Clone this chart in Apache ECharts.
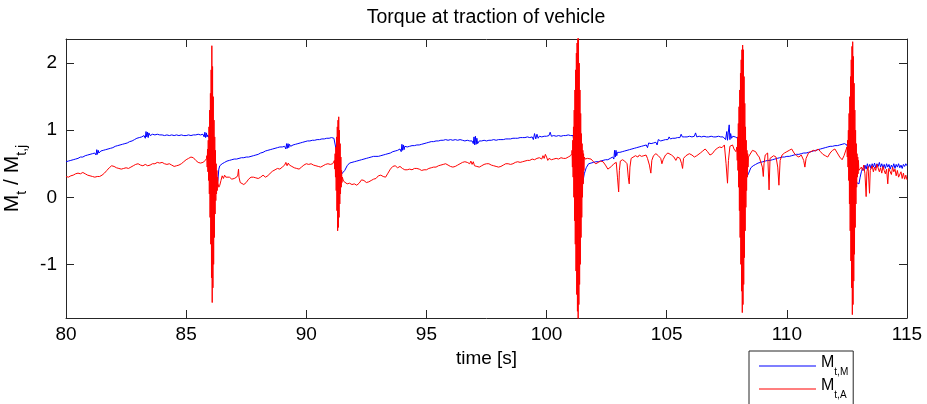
<!DOCTYPE html>
<html>
<head>
<meta charset="utf-8">
<script src="https://cdn.jsdelivr.net/npm/echarts@6/dist/echarts.min.js"></script>
<style>
html,body{margin:0;padding:0;background:#fff;}
#chart{width:927px;height:404px;}
</style>
</head>
<body>
<div id="chart"></div>
<script>
// ---------- DATA (time [s], torque ratio) ----------
const xTicks = [80, 85, 90, 95, 100, 105, 110, 115];
const yTicks = [-1, 0, 1, 2];
const seriesNames = ['Mt,M', 'Mt,A'];

const blueTorque = [
[80.0,0.53],[80.1,0.54],[80.2,0.55],[80.3,0.56],[80.4,0.57],[80.5,0.58],[80.6,0.6],[80.7,0.6],[80.8,0.62],[80.9,0.63],[81.0,0.64],[81.1,0.65],[81.2,0.66],[81.25,0.63],[81.28,0.71],[81.31,0.64],[81.34,0.7],[81.37,0.66],[81.45,0.69],[81.55,0.7],[81.65,0.71],[81.75,0.72],[81.85,0.73],[81.95,0.74],[82.05,0.76],[82.15,0.77],[82.25,0.78],[82.35,0.79],[82.45,0.8],[82.55,0.81],[82.65,0.83],[82.75,0.84],[82.85,0.86],[82.95,0.88],[83.05,0.89],[83.15,0.9],[83.25,0.92],[83.3,0.88],[83.33,0.98],[83.36,0.9],[83.39,0.97],[83.42,0.89],[83.45,0.96],[83.5,0.92],[83.6,0.94],[83.7,0.93],[83.8,0.94],[83.9,0.93],[84.0,0.93],[84.1,0.92],[84.2,0.93],[84.3,0.92],[84.4,0.93],[84.5,0.92],[84.6,0.93],[84.7,0.92],[84.8,0.93],[84.9,0.92],[85.0,0.92],[85.1,0.93],[85.2,0.92],[85.3,0.93],[85.4,0.93],[85.5,0.94],[85.6,0.93],[85.7,0.94],[85.75,0.9],[85.78,0.97],[85.81,0.89],[85.84,0.96],[85.87,0.9],[85.9,0.93],
[86.0,0.85],[86.1,0.6],[86.2,0.35],[86.28,0.17],[86.32,0.25],[86.36,0.42],[86.4,0.47],[86.5,0.5],[86.6,0.52],[86.7,0.54],[86.8,0.55],[86.9,0.56],[87.0,0.57],[87.1,0.57],[87.2,0.58],[87.3,0.59],[87.4,0.59],[87.5,0.6],[87.6,0.6],[87.7,0.61],[87.8,0.62],[87.9,0.63],[88.0,0.64],[88.1,0.66],[88.2,0.67],[88.3,0.69],[88.4,0.7],[88.5,0.71],[88.6,0.72],[88.7,0.73],[88.8,0.74],[88.9,0.75],[89.0,0.75],[89.1,0.76],[89.15,0.72],[89.18,0.8],[89.21,0.73],[89.24,0.8],[89.27,0.74],[89.3,0.79],[89.35,0.76],[89.45,0.78],[89.55,0.79],[89.65,0.8],[89.75,0.81],[89.85,0.82],[89.95,0.83],[90.05,0.84],[90.15,0.84],[90.25,0.85],[90.35,0.85],[90.45,0.86],[90.55,0.86],[90.65,0.87],[90.75,0.87],[90.85,0.88],[90.95,0.88],[91.05,0.89],[91.15,0.88],
[91.25,0.7],[91.3,0.5],[91.35,0.35],[91.4,0.3],[91.45,0.32],[91.5,0.36],[91.6,0.4],[91.7,0.47],[91.8,0.51],[91.9,0.52],[92.0,0.53],[92.1,0.54],[92.2,0.55],[92.3,0.56],[92.4,0.57],[92.5,0.58],[92.6,0.59],[92.7,0.6],[92.8,0.61],[92.9,0.61],[93.0,0.61],[93.1,0.62],[93.2,0.63],[93.3,0.64],[93.4,0.65],[93.5,0.66],[93.6,0.68],[93.7,0.69],[93.8,0.7],[93.9,0.72],[93.95,0.68],[93.98,0.79],[94.01,0.7],[94.04,0.78],[94.07,0.71],[94.1,0.76],[94.2,0.75],[94.3,0.76],[94.4,0.77],[94.5,0.77],[94.6,0.78],[94.7,0.78],[94.8,0.79],[94.9,0.8],[95.0,0.81],[95.1,0.82],[95.2,0.83],[95.3,0.83],[95.4,0.84],[95.5,0.84],[95.6,0.85],[95.7,0.85],[95.8,0.86],[95.9,0.85],[96.0,0.86],[96.1,0.85],[96.2,0.86],[96.3,0.85],[96.4,0.86],[96.5,0.85],[96.6,0.84],[96.7,0.85],[96.8,0.84],[96.9,0.84],[96.95,0.8],[96.98,0.9],[97.01,0.78],[97.04,0.91],[97.07,0.79],[97.1,0.88],[97.13,0.8],[97.2,0.84],[97.3,0.84],[97.4,0.85],[97.5,0.84],[97.6,0.85],[97.7,0.85],[97.8,0.86],[97.9,0.85],[98.0,0.86],[98.1,0.86],[98.2,0.86],[98.3,0.87],[98.4,0.87],[98.5,0.87],[98.6,0.88],[98.7,0.88],[98.8,0.88],[98.9,0.89],[99.0,0.89],[99.1,0.89],[99.2,0.9],[99.3,0.89],[99.4,0.9],[99.45,0.86],[99.5,0.95],[99.55,0.87],[99.6,0.94],[99.65,0.88],[99.7,0.91],[99.8,0.9],[99.9,0.91],[100.0,0.91],[100.1,0.92],[100.15,0.97],[100.2,0.91],[100.3,0.92],[100.4,0.91],[100.5,0.92],[100.6,0.91],[100.7,0.92],[100.8,0.92],[100.9,0.93],[101.0,0.92],[101.1,0.92],
[101.2,0.7],[101.3,0.4],[101.4,0.2],[101.48,0.14],[101.52,0.25],[101.57,0.35],[101.65,0.44],[101.75,0.5],[101.85,0.51],[101.95,0.52],[102.05,0.53],[102.15,0.53],[102.25,0.54],[102.35,0.55],[102.45,0.56],[102.55,0.56],[102.65,0.58],[102.75,0.6],[102.8,0.57],[102.83,0.7],[102.86,0.6],[102.89,0.7],[102.92,0.62],[102.95,0.67],[103.05,0.67],[103.15,0.68],[103.25,0.69],[103.35,0.7],[103.45,0.71],[103.55,0.72],[103.65,0.73],[103.75,0.74],[103.85,0.75],[103.95,0.76],[104.05,0.77],[104.15,0.78],[104.2,0.74],[104.25,0.81],[104.35,0.8],[104.45,0.81],[104.55,0.82],[104.6,0.78],[104.65,0.86],[104.75,0.84],[104.85,0.85],[104.95,0.86],[105.05,0.86],[105.1,0.9],[105.15,0.87],[105.25,0.88],[105.35,0.88],[105.45,0.89],[105.55,0.89],[105.6,0.94],[105.65,0.9],[105.75,0.9],[105.85,0.9],[105.95,0.91],[106.05,0.9],[106.15,0.91],[106.2,0.96],[106.25,0.9],[106.35,0.91],[106.45,0.9],[106.55,0.91],[106.65,0.9],[106.75,0.9],[106.85,0.91],[106.95,0.9],[107.05,0.9],[107.15,0.91],[107.25,0.9],[107.35,0.9],[107.45,0.86],[107.5,0.98],[107.53,0.85],[107.56,0.96],[107.6,1.08],[107.63,0.86],[107.66,0.95],[107.7,0.88],[107.75,0.91],[107.85,0.9],[107.95,0.88],
[108.05,0.75],[108.15,0.55],[108.25,0.38],[108.33,0.3],[108.4,0.35],[108.5,0.44],[108.6,0.47],[108.7,0.49],[108.8,0.51],[108.9,0.52],[109.0,0.53],[109.1,0.54],[109.2,0.55],[109.3,0.55],[109.4,0.56],[109.5,0.57],[109.6,0.58],[109.7,0.59],[109.8,0.6],[109.9,0.6],[110.0,0.61],[110.1,0.61],[110.2,0.62],[110.3,0.63],[110.4,0.64],[110.5,0.64],[110.6,0.65],[110.7,0.66],[110.8,0.66],[110.9,0.67],[111.0,0.68],[111.1,0.69],[111.2,0.7],[111.3,0.71],[111.4,0.72],[111.5,0.73],[111.6,0.74],[111.7,0.75],[111.8,0.76],[111.9,0.76],[112.0,0.77],[112.1,0.77],[112.2,0.78],[112.3,0.79],[112.4,0.8],
[112.5,0.78],[112.6,0.65],[112.7,0.45],[112.8,0.3],[112.9,0.22],[113.0,0.2],[113.05,0.3],[113.1,0.38],[113.15,0.43],[113.2,0.4],[113.25,0.48],[113.3,0.42],[113.35,0.5],[113.4,0.44],[113.45,0.49],[113.5,0.43],[113.55,0.5],[113.6,0.45],[113.65,0.51],[113.7,0.44],[113.75,0.5],[113.8,0.46],[113.85,0.52],[113.9,0.45],[113.95,0.5],[114.0,0.44],[114.05,0.49],[114.1,0.43],[114.15,0.5],[114.2,0.45],[114.25,0.49],[114.3,0.42],[114.35,0.48],[114.4,0.44],[114.45,0.5],[114.5,0.43],[114.55,0.49],[114.6,0.45],[114.65,0.5],[114.7,0.44],[114.75,0.48],[114.8,0.43],[114.85,0.49],[114.9,0.46],[114.95,0.5],[115.0,0.47]
];

const redTorque = [
[80.0,0.31],[80.1,0.3],[80.2,0.32],[80.3,0.33],[80.4,0.35],[80.5,0.36],[80.6,0.35],[80.7,0.37],[80.8,0.35],[80.9,0.33],[81.0,0.32],[81.1,0.31],[81.2,0.3],[81.3,0.31],[81.4,0.31],[81.5,0.33],[81.6,0.36],[81.7,0.4],[81.8,0.44],[81.9,0.47],[82.0,0.46],[82.1,0.44],[82.2,0.43],[82.3,0.42],[82.4,0.43],[82.5,0.44],[82.6,0.43],[82.7,0.45],[82.8,0.47],[82.9,0.49],[83.0,0.5],[83.1,0.48],[83.2,0.47],[83.3,0.49],[83.4,0.47],[83.5,0.48],[83.6,0.5],[83.7,0.5],[83.8,0.52],[83.9,0.51],[84.0,0.52],[84.1,0.5],[84.2,0.49],[84.3,0.5],[84.4,0.48],[84.5,0.46],[84.6,0.47],[84.7,0.48],[84.8,0.5],[84.9,0.53],[85.0,0.56],[85.1,0.58],[85.2,0.6],[85.3,0.59],[85.4,0.55],[85.5,0.52],[85.6,0.51],[85.7,0.52],[85.8,0.55],[85.85,0.58],
[86.33,0.2],[86.36,0.15],[86.4,0.18],[86.45,0.25],[86.5,0.32],[86.55,0.28],[86.6,0.33],[86.65,0.3],[86.7,0.31],[86.8,0.3],[86.9,0.27],[87.0,0.28],[87.1,0.3],[87.15,0.33],[87.18,0.42],[87.2,0.3],[87.25,0.22],[87.3,0.21],[87.4,0.19],[87.5,0.22],[87.6,0.27],[87.7,0.3],[87.8,0.3],[87.9,0.29],[88.0,0.28],[88.1,0.3],[88.2,0.33],[88.3,0.3],[88.4,0.32],[88.5,0.36],[88.6,0.39],[88.7,0.41],[88.8,0.43],[88.9,0.42],[89.0,0.45],[89.1,0.48],[89.15,0.52],[89.2,0.47],[89.25,0.51],[89.3,0.48],[89.4,0.46],[89.5,0.44],[89.6,0.43],[89.7,0.42],[89.8,0.45],[89.9,0.48],[90.0,0.5],[90.1,0.49],[90.2,0.5],[90.3,0.48],[90.4,0.47],[90.5,0.46],[90.6,0.45],[90.7,0.47],[90.8,0.49],[90.9,0.5],[91.0,0.49],[91.1,0.5],[91.15,0.52],
[91.55,0.24],[91.6,0.22],[91.7,0.2],[91.8,0.21],[91.9,0.19],[92.0,0.2],[92.1,0.18],[92.2,0.21],[92.3,0.26],[92.4,0.25],[92.5,0.22],[92.6,0.23],[92.7,0.25],[92.8,0.27],[92.9,0.28],[93.0,0.32],[93.1,0.33],[93.2,0.31],[93.3,0.3],[93.4,0.36],[93.5,0.42],[93.6,0.46],[93.7,0.47],[93.8,0.44],[93.9,0.46],[94.0,0.43],[94.1,0.41],[94.2,0.41],[94.3,0.42],[94.4,0.41],[94.5,0.43],[94.6,0.43],[94.7,0.42],[94.8,0.4],[94.9,0.41],[95.0,0.41],[95.1,0.43],[95.2,0.44],[95.3,0.45],[95.4,0.45],[95.5,0.47],[95.6,0.48],[95.7,0.49],[95.8,0.5],[95.9,0.48],[96.0,0.46],[96.1,0.45],[96.2,0.46],[96.3,0.48],[96.4,0.5],[96.5,0.52],[96.6,0.53],[96.7,0.52],[96.8,0.5],[96.85,0.54],[96.9,0.49],[96.95,0.53],[97.0,0.47],[97.1,0.46],[97.2,0.45],[97.3,0.47],[97.4,0.49],[97.5,0.5],[97.6,0.5],[97.7,0.48],[97.8,0.47],[97.9,0.46],[98.0,0.45],[98.1,0.46],[98.2,0.48],[98.3,0.5],[98.4,0.5],[98.5,0.49],[98.6,0.5],[98.7,0.52],[98.8,0.53],[98.9,0.52],[99.0,0.53],[99.1,0.54],[99.2,0.55],[99.3,0.55],[99.4,0.57],[99.5,0.56],[99.6,0.58],[99.7,0.59],[99.8,0.57],[99.85,0.62],[99.9,0.58],[99.95,0.64],[100.0,0.6],[100.05,0.55],[100.1,0.58],[100.2,0.56],[100.3,0.57],[100.4,0.58],[100.5,0.57],[100.6,0.59],[100.7,0.58],[100.8,0.58],[100.9,0.6],[101.0,0.62],[101.05,0.65],
[101.6,0.57],[101.7,0.58],[101.78,0.6],[101.85,0.57],[101.95,0.53],[102.05,0.5],[102.15,0.52],[102.25,0.54],[102.35,0.53],[102.45,0.48],[102.55,0.42],[102.6,0.41],[102.7,0.46],[102.8,0.5],[102.9,0.52],[102.95,0.3],[103.0,0.08],[103.03,0.4],[103.07,0.54],[103.16,0.56],[103.25,0.54],[103.35,0.5],[103.4,0.3],[103.44,0.2],[103.47,0.45],[103.52,0.58],[103.6,0.6],[103.7,0.62],[103.8,0.6],[103.86,0.63],[103.95,0.61],[104.05,0.62],[104.14,0.63],[104.2,0.58],[104.28,0.48],[104.34,0.36],[104.38,0.55],[104.45,0.62],[104.55,0.65],[104.65,0.62],[104.75,0.58],[104.8,0.5],[104.85,0.56],[104.95,0.63],[105.05,0.66],[105.1,0.68],[105.2,0.63],[105.3,0.6],[105.38,0.55],[105.45,0.6],[105.55,0.58],[105.62,0.5],[105.66,0.43],[105.7,0.58],[105.8,0.62],[105.94,0.65],[106.05,0.63],[106.15,0.6],[106.25,0.62],[106.3,0.6],[106.4,0.66],[106.5,0.69],[106.6,0.72],[106.7,0.68],[106.8,0.63],[106.9,0.65],[107.0,0.7],[107.1,0.73],[107.2,0.75],[107.3,0.74],[107.4,0.78],[107.47,0.5],[107.53,0.21],[107.57,0.55],[107.63,0.76],[107.7,0.78],[107.74,0.78],[107.8,0.72],[107.88,0.68],
[108.45,0.62],[108.5,0.66],[108.57,0.7],[108.64,0.72],[108.7,0.68],[108.78,0.63],[108.85,0.6],[108.92,0.62],[108.98,0.45],[109.02,0.31],[109.05,0.5],[109.1,0.63],[109.2,0.66],[109.26,0.11],[109.3,0.58],[109.35,0.58],[109.45,0.62],[109.55,0.6],[109.62,0.45],[109.67,0.18],[109.72,0.55],[109.8,0.63],[109.9,0.66],[110.0,0.68],[110.1,0.7],[110.2,0.72],[110.3,0.66],[110.4,0.62],[110.5,0.6],[110.6,0.63],[110.7,0.55],[110.75,0.45],[110.8,0.58],[110.9,0.66],[111.0,0.68],[111.1,0.7],[111.2,0.69],[111.3,0.72],[111.4,0.68],[111.5,0.64],[111.6,0.62],[111.7,0.6],[111.8,0.66],[111.9,0.7],[112.0,0.72],[112.1,0.66],[112.2,0.6],[112.3,0.56],[112.38,0.62],[112.45,0.63],
[113.05,0.42],[113.1,0.45],[113.15,0.4],[113.2,0.48],[113.25,0.35],[113.3,0.01],[113.33,0.38],[113.38,0.46],[113.44,0.06],[113.47,0.4],[113.5,0.41],[113.55,0.47],[113.6,0.38],[113.65,0.45],[113.7,0.4],[113.75,0.49],[113.8,0.48],[113.85,0.38],[113.9,0.44],[113.95,0.36],[114.0,0.46],[114.05,0.4],[114.1,0.35],[114.15,0.42],[114.2,0.2],[114.24,0.43],[114.3,0.41],[114.35,0.34],[114.4,0.45],[114.45,0.38],[114.5,0.42],[114.55,0.32],[114.6,0.4],[114.65,0.3],[114.7,0.31],[114.75,0.38],[114.8,0.28],[114.85,0.36],[114.9,0.27],[114.95,0.33],[115.0,0.26]
];

// oscillation bursts of the red signal (read peak by peak)
const redBurst1 = [
[85.86,0.62],[85.875,0.45],[85.89,0.72],[85.905,0.38],[85.92,0.85],[85.935,0.25],[85.95,1.05],[85.965,0.05],[85.98,1.3],[85.995,-0.3],[86.01,1.55],[86.025,-0.7],[86.04,1.9],[86.055,-1.2],[86.07,2.26],[86.085,-1.57],[86.1,1.95],[86.115,-1.35],[86.13,1.5],[86.145,-1.0],[86.16,1.15],[86.175,-0.6],[86.19,0.9],[86.205,-0.25],[86.22,0.7],[86.235,-0.05],[86.25,0.5],[86.265,0.05],[86.28,0.4],[86.295,0.1],[86.31,0.3]
];
const redBurst2 = [
[91.17,0.55],[91.185,0.42],[91.2,0.65],[91.215,0.3],[91.23,0.75],[91.245,0.1],[91.26,0.9],[91.275,-0.2],[91.29,1.05],[91.305,-0.5],[91.32,1.15],[91.335,-0.45],[91.35,1.2],[91.365,-0.3],[91.38,1.0],[91.395,-0.1],[91.41,0.8],[91.425,0.05],[91.44,0.6],[91.455,0.15],[91.47,0.4],[91.485,0.22],[91.5,0.3]
];
const redBurst3 = [
[101.06,0.7],[101.075,0.45],[101.09,0.85],[101.105,0.3],[101.12,1.05],[101.135,0.0],[101.15,1.3],[101.165,-0.35],[101.18,1.6],[101.195,-0.7],[101.21,1.9],[101.225,-1.1],[101.24,2.15],[101.255,-1.45],[101.27,2.3],[101.285,-1.7],[101.3,2.45],[101.315,-1.85],[101.33,2.4],[101.345,-1.6],[101.36,2.0],[101.375,-1.3],[101.39,1.6],[101.405,-1.0],[101.42,1.25],[101.435,-0.6],[101.45,0.95],[101.465,-0.3],[101.48,0.8],[101.495,0.0],[101.51,0.7],[101.525,0.2],[101.54,0.65],[101.555,0.4],[101.57,0.6]
];
const redBurst4 = [
[107.92,0.75],[107.935,0.55],[107.95,0.9],[107.965,0.4],[107.98,1.1],[107.995,0.15],[108.01,1.35],[108.025,-0.2],[108.04,1.6],[108.055,-0.6],[108.07,1.85],[108.085,-1.0],[108.1,2.05],[108.115,-1.4],[108.13,2.2],[108.145,-1.72],[108.16,2.27],[108.175,-1.6],[108.19,2.2],[108.205,-1.3],[108.22,1.8],[108.235,-0.9],[108.25,1.4],[108.265,-0.5],[108.28,1.05],[108.295,-0.15],[108.31,0.85],[108.325,0.1],[108.34,0.7],[108.355,0.3],[108.37,0.65],[108.385,0.45],[108.4,0.6]
];
const redBurst5 = [
[112.5,0.75],[112.515,0.6],[112.53,0.85],[112.545,0.45],[112.56,1.0],[112.575,0.25],[112.59,1.25],[112.605,-0.1],[112.62,1.5],[112.635,-0.5],[112.65,1.8],[112.665,-0.95],[112.68,2.05],[112.695,-1.35],[112.71,2.25],[112.725,-1.75],[112.74,2.32],[112.755,-1.6],[112.77,2.1],[112.785,-1.25],[112.8,1.7],[112.815,-0.85],[112.83,1.3],[112.845,-0.45],[112.86,1.0],[112.875,-0.1],[112.89,0.8],[112.905,0.15],[112.92,0.65],[112.935,0.3],[112.95,0.6],[112.965,0.35],[112.98,0.55],[112.995,0.4]
];

// ---------- CHART ----------
const FONT = '"Liberation Sans", Arial, Helvetica, sans-serif';
const AX = '#262626';
const redAll = redTorque.concat(redBurst1, redBurst2, redBurst3, redBurst4, redBurst5)
  .slice().sort((a, b) => a[0] - b[0]);

const chart = echarts.init(document.getElementById('chart'), null, {renderer: 'canvas'});

const baseAxis = {
  type: 'value',
  axisLine: {show: true, onZero: false, lineStyle: {color: AX, width: 1}},
  axisTick: {show: true, inside: true, length: 8, lineStyle: {color: AX, width: 1}},
  splitLine: {show: false}
};

chart.setOption({
  animation: false,
  backgroundColor: '#fff',
  title: {
    text: 'Torque at traction of vehicle',
    left: 486, top: 8, textAlign: 'center', padding: 0,
    textStyle: {fontFamily: FONT, fontSize: 19.5, fontWeight: 'normal', color: '#000'}
  },
  legend: {
    orient: 'vertical',
    left: 749, top: 351, height: 120,
    padding: [4, 5, 40, 10],
    icon: 'rect',
    itemWidth: 57, itemHeight: 1, itemGap: 1,
    borderColor: AX, borderWidth: 1,
    backgroundColor: '#fff',
    data: seriesNames,
    formatter: function (n) { return '{m|M}{s|' + n.slice(1) + '}'; },
    textStyle: {
      fontFamily: FONT, color: '#000',
      rich: {
        m: {fontFamily: FONT, fontSize: 16, color: '#000', lineHeight: 16, verticalAlign: 'top'},
        s: {fontFamily: FONT, fontSize: 10, color: '#000', lineHeight: 22, verticalAlign: 'bottom'}
      }
    }
  },
  grid: {left: 66, right: 20, top: 39, bottom: 86, outerBoundsMode: 'none'},
  xAxis: [
    Object.assign({}, baseAxis, {
      min: 80, max: 115, interval: 5, position: 'bottom',
      axisLabel: {fontFamily: FONT, fontSize: 19, color: '#000', margin: 7},
      name: 'time [s]', nameLocation: 'middle', nameGap: 30,
      nameTextStyle: {fontFamily: FONT, fontSize: 19, color: '#000'}
    }),
    Object.assign({}, baseAxis, {
      min: 80, max: 115, interval: 5, position: 'top',
      axisLabel: {show: false}
    })
  ],
  yAxis: [
    Object.assign({}, baseAxis, {
      min: -1.8, max: 2.36, position: 'left',
      axisTick: {show: true, inside: true, length: 8, customValues: yTicks, lineStyle: {color: AX, width: 1}},
      axisLabel: {customValues: yTicks, fontFamily: FONT, fontSize: 19, color: '#000', margin: 9},
      name: '{m|M}{s|t}{m| / M}{s|t,j}', nameLocation: 'middle', nameRotate: 90, nameGap: 29,
      nameTextStyle: {
        fontFamily: FONT, color: '#000',
        rich: {
          m: {fontFamily: FONT, fontSize: 21, color: '#000', lineHeight: 21, verticalAlign: 'top'},
          s: {fontFamily: FONT, fontSize: 14, color: '#000', lineHeight: 28, verticalAlign: 'bottom'}
        }
      }
    }),
    Object.assign({}, baseAxis, {
      min: -1.8, max: 2.36, position: 'right',
      axisTick: {show: true, inside: true, length: 8, customValues: yTicks, lineStyle: {color: AX, width: 1}},
      axisLabel: {show: false}
    })
  ],
  series: [
    {
      name: seriesNames[0], type: 'line', data: blueTorque,
      xAxisIndex: 0, yAxisIndex: 0,
      symbol: 'none', showSymbol: false, sampling: null,
      lineStyle: {color: '#0000ff', width: 1}, itemStyle: {color: '#0000ff'},
      clip: true, z: 2
    },
    {
      name: seriesNames[1], type: 'line', data: redAll,
      xAxisIndex: 0, yAxisIndex: 0,
      symbol: 'none', showSymbol: false, sampling: null,
      lineStyle: {color: '#ff0000', width: 1}, itemStyle: {color: '#ff0000'},
      clip: true, z: 3
    }
  ]
});
</script>
</body>
</html>
